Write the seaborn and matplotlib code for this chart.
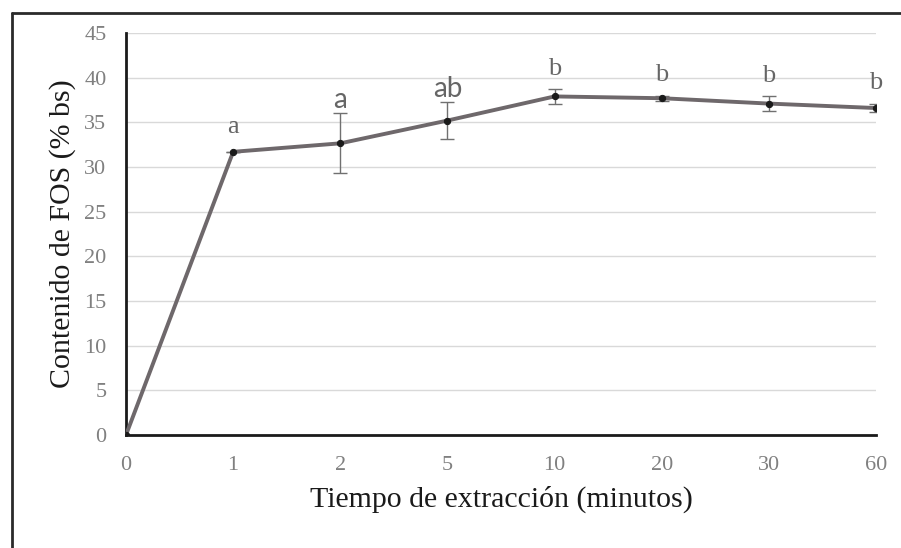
import matplotlib
matplotlib.use("Agg")
import matplotlib.pyplot as plt
from matplotlib.lines import Line2D
import seaborn as sns
import pandas as pd

# Extraction time categories (minutes) and FOS content (% dry basis)
tiempos = ["0", "1", "2", "5", "10", "20", "30", "60"]
fos = [0.0, 31.7, 32.65, 35.2, 37.9, 37.7, 37.1, 36.6]
desv = [0.0, 0.0, 3.35, 2.1, 0.8, 0.3, 0.8, 0.45]
letras = ["", "a", "a", "ab", "b", "b", "b", "b"]
serif_letra = [True, True, False, False, True, True, True, True]

sns.set_theme(style="white")
plt.rcParams["font.family"] = ["Liberation Serif", "DejaVu Serif"]

df = pd.DataFrame({"pos": range(len(tiempos)), "fos": fos, "desv": desv})

fig = plt.figure(figsize=(9.01, 5.48), dpi=100)
ax = fig.add_axes([126 / 901, 113 / 548, 750 / 901, 402 / 548])

ax.yaxis.grid(True, color="#d9d9d9", linewidth=1.0)
ax.set_axisbelow(True)

ax.errorbar(df["pos"][1:], df["fos"][1:], yerr=df["desv"][1:], fmt="none",
            ecolor="#707070", elinewidth=1.0, capsize=5, capthick=1.0, zorder=2)

sns.lineplot(data=df, x="pos", y="fos", ax=ax, color="#6e686b", linewidth=2.8,
             marker="o", markersize=4.5, markerfacecolor="#1a1a1a",
             markeredgecolor="#1a1a1a", zorder=3)

for i, (lbl, s) in enumerate(zip(letras, serif_letra)):
    if not lbl:
        continue
    top = fos[i] + desv[i]
    if s:
        fam, size, off = ["Liberation Serif"], 19, 7
    else:
        fam, size, off = ["Lato", "DejaVu Sans"], 20, 0
    if i == 1:
        off = 10
    ax.annotate(lbl, (i, top), xytext=(0, off), textcoords="offset points",
                ha="center", va="bottom", fontsize=size, color="#666666",
                family=fam)

ax.set_xlim(0, len(tiempos) - 1)
ax.set_ylim(0, 45)
ax.set_xticks(range(len(tiempos)))
ax.set_xticklabels(tiempos)
ax.set_yticks(range(0, 46, 5))
ax.tick_params(axis="both", length=0, labelsize=16, labelcolor="#808080")
ax.tick_params(axis="x", pad=15)
ax.tick_params(axis="y", pad=14)

for side in ("top", "right"):
    ax.spines[side].set_visible(False)
for side in ("left", "bottom"):
    ax.spines[side].set_color("#1a1a1a")
    ax.spines[side].set_linewidth(2.0)

ax.set_xlabel("Tiempo de extracción (minutos)", fontsize=21.5, color="#1a1a1a", labelpad=8)
ax.set_ylabel("Contenido de FOS (% bs)", fontsize=21.5, color="#1a1a1a", labelpad=6)

# outer frame (top and left edges)
fig.add_artist(Line2D([12 / 901, 1.0], [1 - 13 / 548, 1 - 13 / 548],
                      transform=fig.transFigure, color="#2a2a2a", linewidth=2.0))
fig.add_artist(Line2D([12 / 901, 12 / 901], [0.0, 1 - 13 / 548],
                      transform=fig.transFigure, color="#2a2a2a", linewidth=2.0))

fig.savefig("out.png", dpi=100, facecolor="white")
